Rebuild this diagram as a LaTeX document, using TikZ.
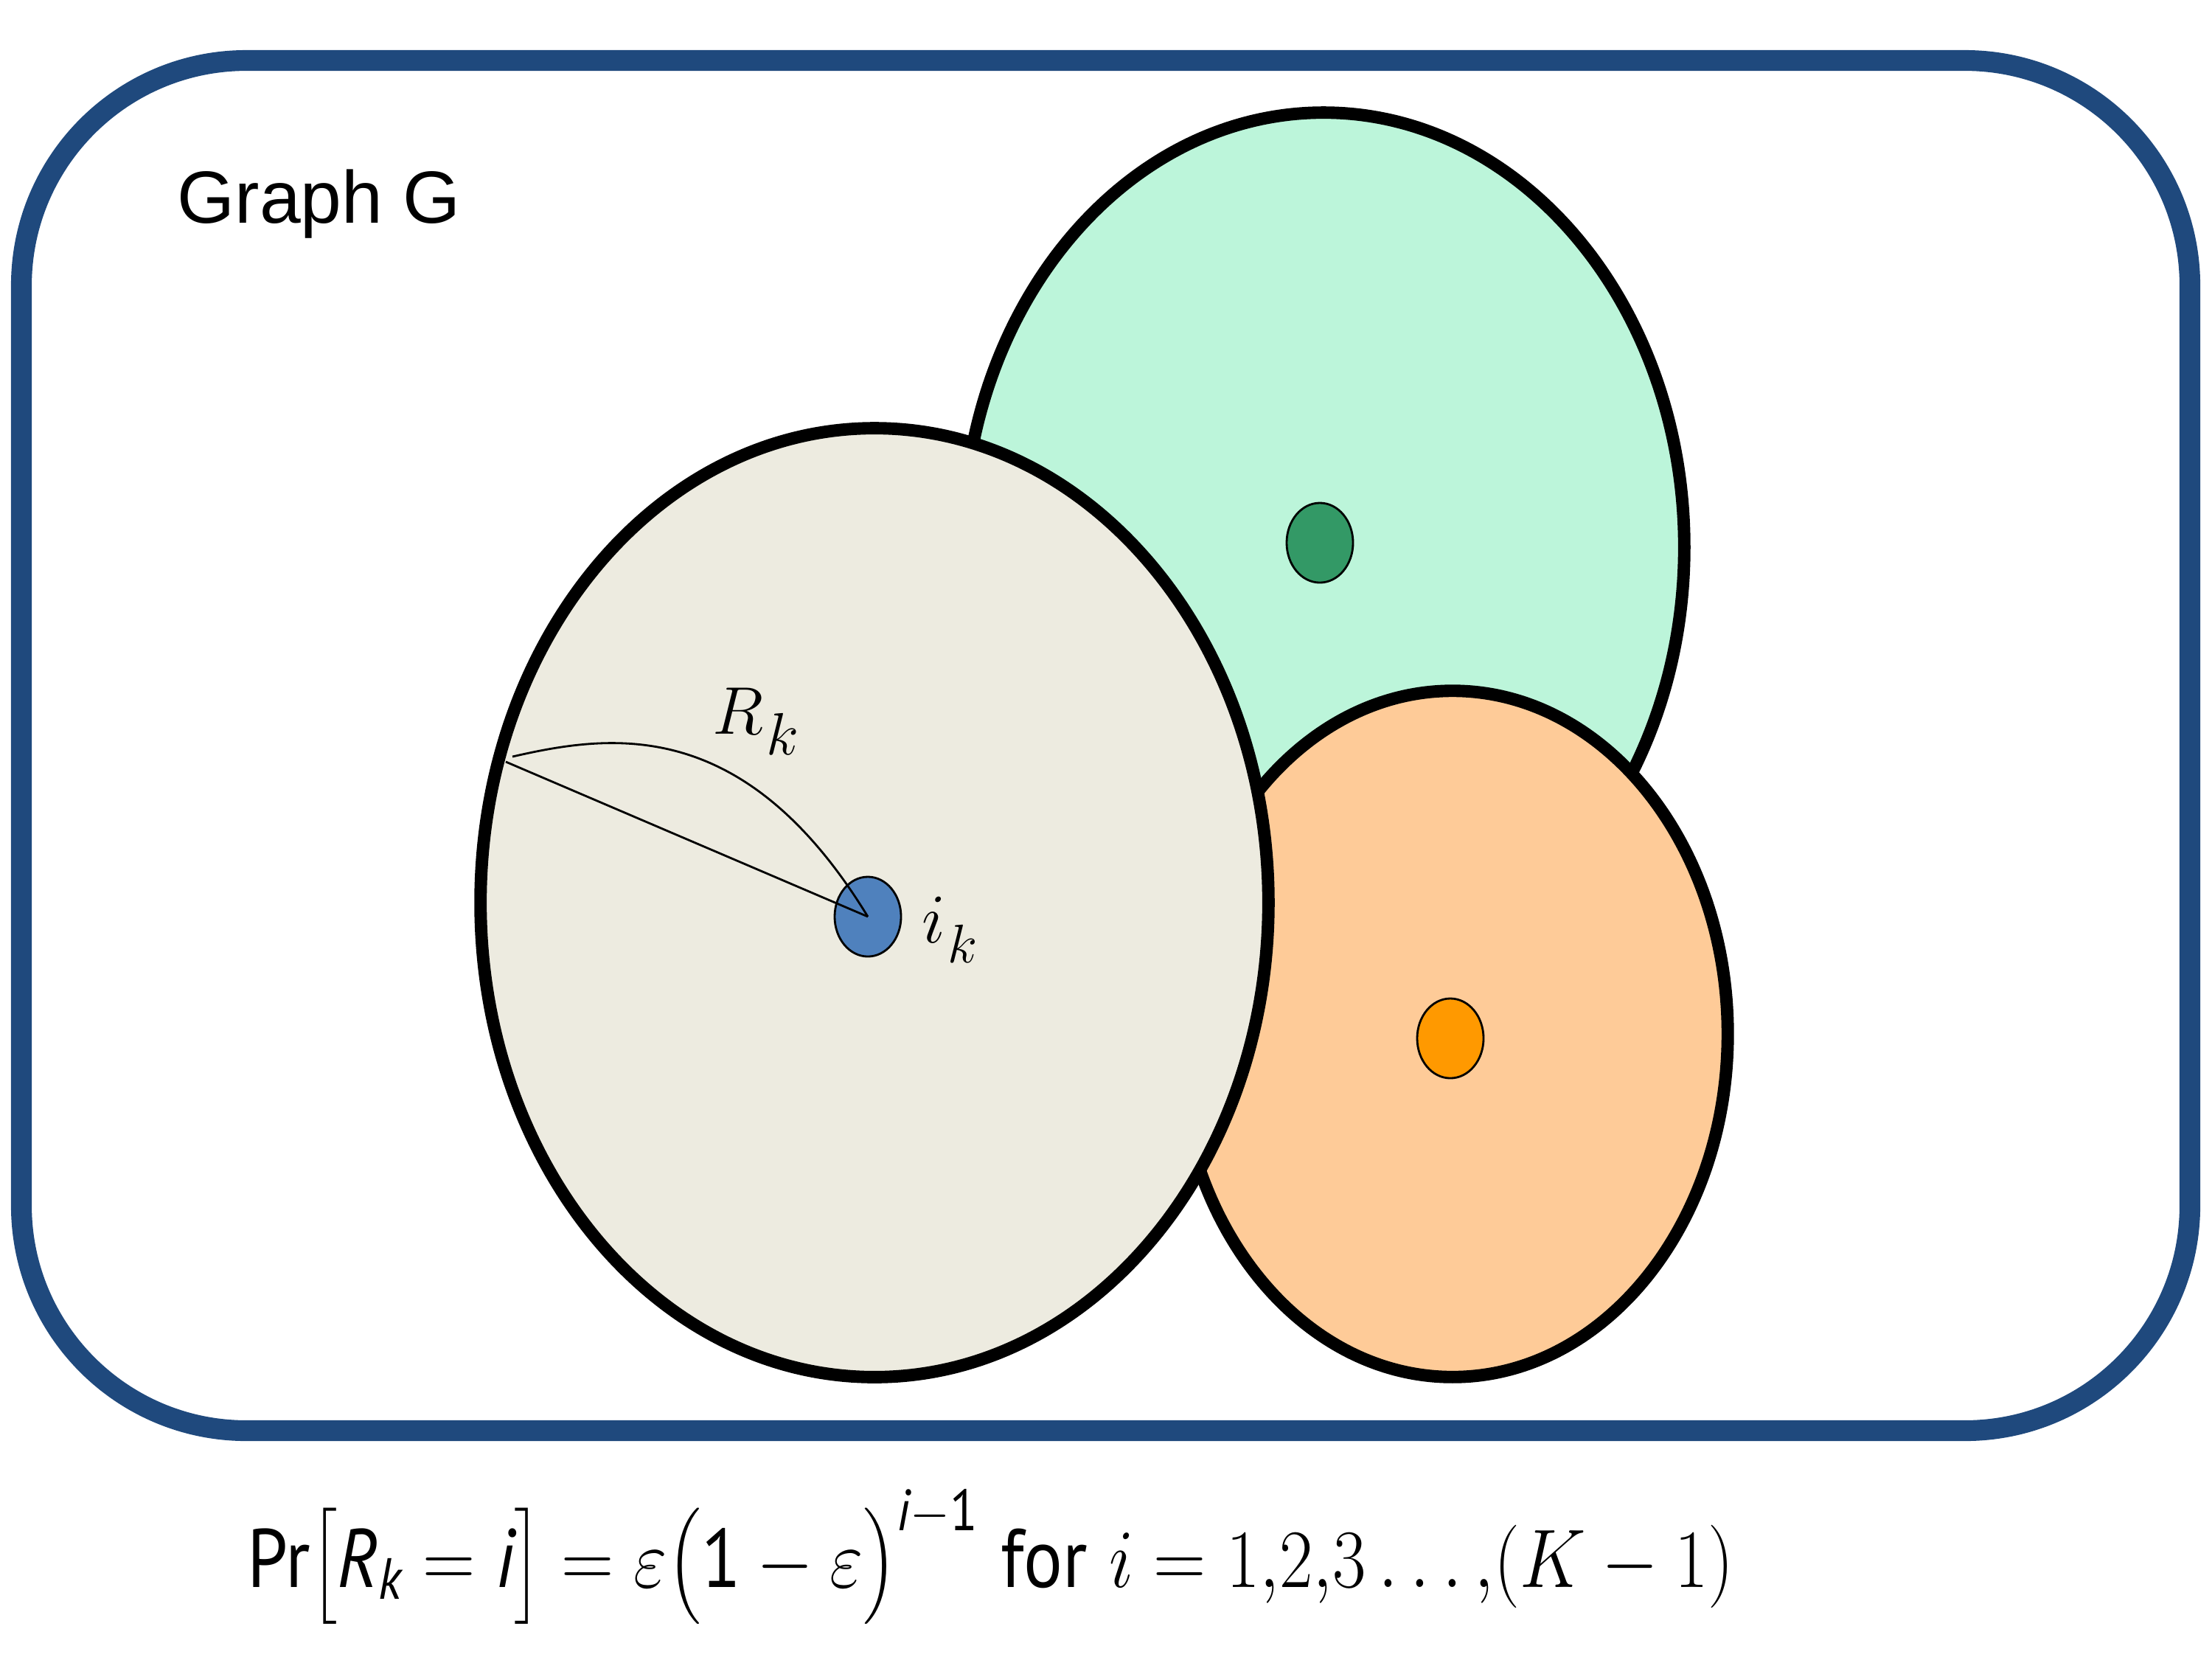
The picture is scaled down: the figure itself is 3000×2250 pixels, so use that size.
\documentclass[tikz,border=0pt]{standalone}
\usepackage{fix-cm}
\usepackage{amsmath}
\usepackage{graphicx}
\usepackage{fontspec}
\newfontfamily\arialfont{Liberation Sans}
\newfontfamily\fsans{PT Sans}
\usetikzlibrary{shapes.geometric}
\definecolor{frameblue}{HTML}{1F497D}
\definecolor{mint}{HTML}{BCF5DA}
\definecolor{tanfill}{HTML}{EDEBE0}
\definecolor{peach}{HTML}{FECB98}
\definecolor{dotgreen}{HTML}{339966}
\definecolor{dotblue}{HTML}{4F81BD}
\definecolor{dotorange}{HTML}{FF9900}
\newcommand{\sfit}[1]{\text{\fsans\itshape #1}}
\newcommand{\sfup}[1]{\text{\fsans #1}}
\begin{document}
\begin{tikzpicture}[x=0.01cm,y=-0.01cm,
  region/.style={ellipse, draw=black, line width=4.8pt, inner sep=0pt},
  vertex/.style={ellipse, draw=black, line width=0.8pt, inner sep=0pt,
                 minimum width=0.90cm, minimum height=1.08cm},
  link/.style={line width=0.8pt},
  lbl/.style={anchor=base west, inner sep=0pt}]
\useasboundingbox (0,0) rectangle (3000,2250);
% frame
\draw[frameblue, line width=8pt, rounded corners=3.05cm] (29,82) rectangle (2970,1940);
% regions
\node[region, fill=mint,    minimum width=9.78cm,  minimum height=11.78cm] (green)  at (1795,742)  {};
\node[region, fill=peach,   minimum width=7.46cm,  minimum height=9.30cm]  (orange) at (1970,1402) {};
\node[region, fill=tanfill, minimum width=10.68cm, minimum height=12.86cm] (tan)    at (1186,1224) {};
% vertices
\node[vertex, fill=dotgreen]  (gdot) at (1790,736)  {};
\node[vertex, fill=dotblue]   (bdot) at (1177,1243) {};
\node[vertex, fill=dotorange] (odot) at (1967,1408) {};
% radius lines
\coordinate (edgeA) at (686,1033);
\coordinate (edgeB) at (695,1026);
\draw[link] (edgeA) -- (bdot.center);
\draw[link] (edgeB) .. controls (830,995) and (1010,970) .. (bdot.center);
% labels
\node[lbl] (rk) at (966,995) {\fontsize{26}{30}\selectfont$R$\kern1pt\raisebox{-8pt}{\fontsize{23}{26}\selectfont$k$}};
\node[lbl] (ik) at (1250,1278) {\fontsize{27}{30}\selectfont$i$\kern1pt\raisebox{-7.7pt}{\fontsize{21}{24}\selectfont$k$}};
\node[lbl, font=\arialfont\fontsize{28.5}{34}\selectfont] (title) at (240,302) {Graph G};
% formula
\node[lbl] (formula) at (335,2152) {\resizebox{20.15cm}{\height}{\fontsize{32}{38}\selectfont
  \sfup{Pr}$\big[\sfit{R}_{\sfit{k}} = \sfit{i}\big] = \varepsilon\big(\sfup{1} - \varepsilon\big)^{\sfit{i}-\sfup{1}}$ \sfup{for} $i = 1{,}2{,}3\ldots{,}(K-1)$}};
\end{tikzpicture}
\end{document}
